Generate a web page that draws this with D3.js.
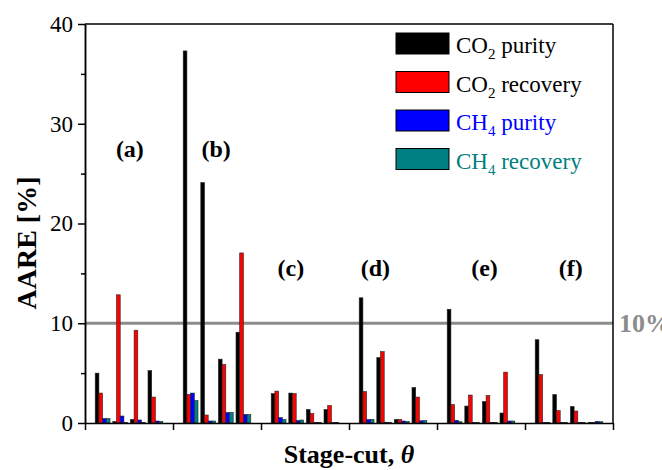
<!DOCTYPE html>
<html>
<head>
<meta charset="utf-8">
<script src="https://cdn.jsdelivr.net/npm/d3@7"></script>
<style>
  body { margin: 0; background: #fff; }
  svg { display: block; font-family: "Liberation Serif", "Times New Roman", serif; }
</style>
</head>
<body>
<script>
// ---- data ----
var groups = ["(a)", "(b)", "(c)", "(d)", "(e)", "(f)"];
var stageCuts = [1, 2, 3, 4];   // four stage-cut values per case

// AARE [%] per case x stage-cut, 24 values each
var co2Purity   = [5.0, 0.15, 0.35, 5.25, 37.3, 24.1, 6.4, 9.1, 2.95, 3.0, 1.35, 1.35, 12.55, 6.55, 0.35, 3.55, 11.4, 1.7, 2.15, 1.0, 8.35, 2.85, 1.65, 0.05];
var co2Recovery = [3.0, 12.85, 9.3, 2.6, 2.85, 0.8, 5.85, 17.05, 3.2, 2.95, 0.95, 1.75, 3.15, 7.15, 0.35, 2.6, 1.85, 2.8, 2.75, 5.1, 4.85, 1.25, 1.2, 0.05];
var ch4Purity   = [0.45, 0.7, 0.3, 0.2, 3.0, 0.2, 1.05, 0.85, 0.55, 0.25, 0.05, 0.05, 0.35, 0.08, 0.2, 0.22, 0.27, 0.05, 0.05, 0.2, 0.05, 0.05, 0.05, 0.17];
var ch4Recovery = [0.45, 0.05, 0.05, 0.15, 2.25, 0.2, 1.05, 0.85, 0.35, 0.3, 0.05, 0.05, 0.35, 0.07, 0.15, 0.25, 0.13, 0.05, 0.05, 0.2, 0.05, 0.05, 0.05, 0.13];

var yTicks = [0, 10, 20, 30, 40];
var yMinorTicks = [5, 15, 25, 35];
var threshold = 10;

var series = [
  { name: "CO", sub: "2", rest: " purity",   values: co2Purity,   fill: "#000000", text: "#000000" },
  { name: "CO", sub: "2", rest: " recovery", values: co2Recovery, fill: "#ff0000", text: "#000000" },
  { name: "CH", sub: "4", rest: " purity",   values: ch4Purity,   fill: "#0000ff", text: "#0000ff" },
  { name: "CH", sub: "4", rest: " recovery", values: ch4Recovery, fill: "#008080", text: "#008080" }
];

// ---- layout ----
var width = 662, height = 470;
var plotL = 85, plotR = 613, plotT = 24, plotB = 423;

var svg = d3.select("body").append("svg")
  .attr("width", width)
  .attr("height", height);

svg.append("rect").attr("width", width).attr("height", height).attr("fill", "#fff");

// x: each case takes 5 slots (4 stage-cuts + gap)
var slots = groups.length * (stageCuts.length + 1);
var x = d3.scaleLinear().domain([0, slots]).range([plotL, plotR]);
var y = d3.scaleLinear().domain([0, 40]).range([plotB, plotT]);

var bw = 3.7;

// threshold line
svg.append("line")
  .attr("x1", plotL).attr("x2", plotR)
  .attr("y1", y(threshold)).attr("y2", y(threshold))
  .attr("stroke", "#8c8c8c").attr("stroke-width", 3);

svg.append("text")
  .attr("x", plotR + 6).attr("y", y(threshold) + 9)
  .attr("fill", "#8c8c8c")
  .attr("font-size", 26).attr("font-weight", "bold")
  .text(threshold + "%");

// bars
series.forEach(function(s, j) {
  svg.append("g").selectAll("rect")
    .data(s.values)
    .enter().append("rect")
    .attr("x", function(d, i) {
      var g = Math.floor(i / stageCuts.length), k = i % stageCuts.length;
      return x(g * (stageCuts.length + 1) + k + 1) + (j - 2) * bw;
    })
    .attr("y", function(d) { return y(d); })
    .attr("width", bw)
    .attr("height", function(d) { return y(0) - y(d); })
    .attr("fill", s.fill)
    .attr("stroke", "#222")
    .attr("stroke-width", 0.6);
});

// axes
svg.append("g")
  .attr("transform", "translate(" + plotL + ",0)")
  .call(d3.axisLeft(y).tickValues(yTicks).tickSize(7).tickSizeOuter(0).tickPadding(5));
svg.append("g")
  .attr("transform", "translate(" + plotL + ",0)")
  .call(d3.axisLeft(y).tickValues(yMinorTicks).tickSize(4).tickSizeOuter(0).tickFormat(""));

var xTicks = d3.range(0, slots + 1, stageCuts.length + 1);
svg.append("g")
  .attr("transform", "translate(0," + plotB + ")")
  .call(d3.axisBottom(x).tickValues(xTicks).tickSize(7).tickSizeOuter(0).tickFormat(""));

svg.selectAll(".domain, .tick line").attr("stroke", "#000").attr("stroke-width", 1.5);
svg.selectAll(".tick text")
  .attr("font-family", "Liberation Serif, Times New Roman, serif")
  .attr("font-size", 23).attr("fill", "#000");

// top and right frame
svg.append("line").attr("x1", plotL).attr("x2", plotR).attr("y1", plotT).attr("y2", plotT)
  .attr("stroke", "#000").attr("stroke-width", 1.5);
svg.append("line").attr("x1", plotR).attr("x2", plotR).attr("y1", plotT).attr("y2", plotB)
  .attr("stroke", "#000").attr("stroke-width", 1.5);

// case labels, anchored in data units
var labelX = [2.55, 7.45, 11.7, 16.5, 22.7, 27.6];
var labelY = [26.7, 26.7, 14.7, 14.7, 14.7, 14.7];
svg.append("g").selectAll("text")
  .data(groups)
  .enter().append("text")
  .attr("x", function(d, i) { return x(labelX[i]); })
  .attr("y", function(d, i) { return y(labelY[i]); })
  .attr("text-anchor", "middle")
  .attr("font-size", 24).attr("font-weight", "bold")
  .text(function(d) { return d; });

// axis titles
svg.append("text")
  .attr("transform", "translate(36,243) rotate(-90)")
  .attr("text-anchor", "middle")
  .attr("font-size", 28).attr("font-weight", "bold")
  .text("AARE [%]");

var xt = svg.append("text")
  .attr("x", (plotL + plotR) / 2).attr("y", 463)
  .attr("text-anchor", "middle")
  .attr("font-size", 26).attr("font-weight", "bold");
xt.append("tspan").text("Stage-cut, ");
xt.append("tspan").attr("font-style", "italic").text("θ");

// legend
var legend = svg.append("g");
series.forEach(function(s, i) {
  var ly = 33 + i * 38.5;
  legend.append("rect")
    .attr("x", 396).attr("y", ly).attr("width", 53).attr("height", 21)
    .attr("fill", s.fill).attr("stroke", "#000").attr("stroke-width", 1);
  var t = legend.append("text")
    .attr("x", 456).attr("y", ly + 20)
    .attr("font-size", 23).attr("fill", s.text);
  t.append("tspan").text(s.name);
  t.append("tspan").attr("font-size", 15).attr("dy", 6).text(s.sub);
  t.append("tspan").attr("dy", -6).text(s.rest);
});
</script>
</body>
</html>
